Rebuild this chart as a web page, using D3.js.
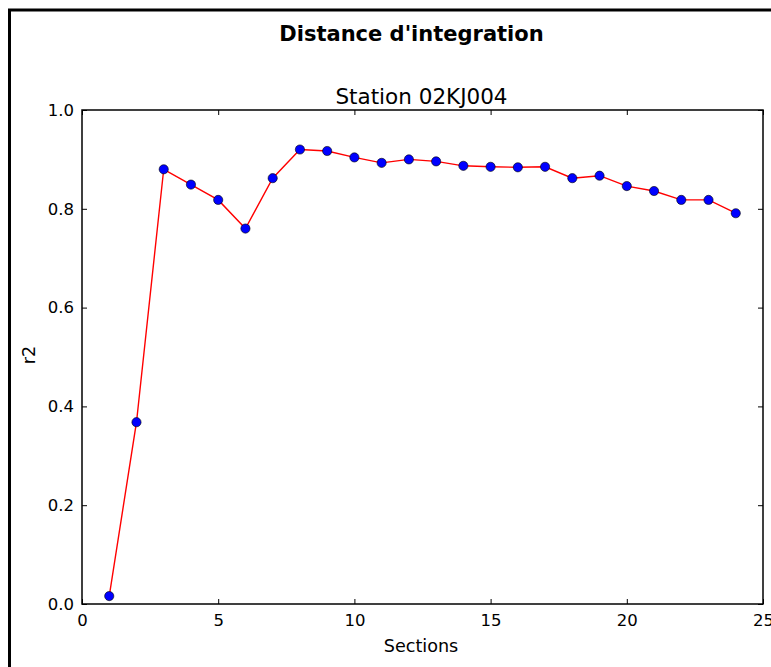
<!DOCTYPE html>
<html><head><meta charset="utf-8">
<script src="https://cdn.jsdelivr.net/npm/d3@7"></script>
<style>body{margin:0;background:#fff}svg{display:block;font-family:"DejaVu Sans",sans-serif}</style>
</head><body><svg id="c" width="771" height="667"></svg>
<script>
const sections = [1,2,3,4,5,6,7,8,9,10,11,12,13,14,15,16,17,18,19,20,21,22,23,24];
const r2 = [0.016,0.368,0.880,0.849,0.818,0.760,0.862,0.920,0.917,0.904,0.893,0.900,0.896,0.887,0.885,0.884,0.885,0.862,0.867,0.846,0.836,0.818,0.818,0.791];
const xTicks = [0,5,10,15,20,25];
const yTicks = [0,0.2,0.4,0.6,0.8,1.0];
const mainTitle = "Distance d'integration";
const subTitle = "Station 02KJ004";
const xLabel = "Sections";
const yLabel = "r2";

const svg = d3.select("#c");
// figure frame
svg.append("rect").attr("x",9.5).attr("y",10).attr("width",800).attr("height",700)
  .attr("fill","none").attr("stroke","#000").attr("stroke-width",3);

const L=82,R=763,T=110,B=604;
const x = d3.scaleLinear().domain([0,25]).range([L,R]);
const y = d3.scaleLinear().domain([0,1]).range([B,T]);

const tl=5;
const fmtY = d3.format(".1f");
const ax = svg.append("g").attr("transform",`translate(0,${B})`)
  .call(d3.axisBottom(x).tickValues(xTicks).tickSizeInner(-tl).tickSizeOuter(0).tickPadding(10));
const axT = svg.append("g").attr("transform",`translate(0,${T})`)
  .call(d3.axisTop(x).tickValues(xTicks).tickSizeInner(-tl).tickSizeOuter(0).tickFormat(""));
const ay = svg.append("g").attr("transform",`translate(${L},0)`)
  .call(d3.axisLeft(y).tickValues(yTicks).tickFormat(fmtY).tickSizeInner(-tl).tickSizeOuter(0).tickPadding(8));
const ayR = svg.append("g").attr("transform",`translate(${R},0)`)
  .call(d3.axisRight(y).tickValues(yTicks).tickSizeInner(-tl).tickSizeOuter(0).tickFormat(""));
[ax,axT,ay,ayR].forEach(g=>{
  g.select(".domain").remove();
  g.selectAll("line").attr("stroke","#000").attr("stroke-width",1);
  g.selectAll("text").attr("font-family","DejaVu Sans").attr("font-size",16.5).attr("fill","#000");
});
svg.append("rect").attr("x",L).attr("y",T).attr("width",R-L).attr("height",B-T)
  .attr("fill","none").attr("stroke","#000").attr("stroke-width",1.5);

const line = d3.line().x((d,i)=>x(sections[i])).y(d=>y(d));
svg.append("path").datum(r2).attr("d",line).attr("fill","none").attr("stroke","#ff0000").attr("stroke-width",1.4);
svg.selectAll("circle.pt").data(r2).enter().append("circle").attr("class","pt")
  .attr("cx",(d,i)=>x(sections[i])).attr("cy",d=>y(d)).attr("r",4.6)
  .attr("fill","#0000ff").attr("stroke","#000").attr("stroke-width",0.6);

svg.append("text").attr("x",411.5).attr("y",41).attr("text-anchor","middle")
  .attr("font-size",21).attr("font-weight","bold").text(mainTitle);
svg.append("text").attr("x",421.5).attr("y",104).attr("text-anchor","middle")
  .attr("font-size",21.5).text(subTitle);
svg.append("text").attr("x",421).attr("y",652).attr("text-anchor","middle")
  .attr("font-size",17.6).text(xLabel);
svg.append("text").attr("transform",`translate(35,${(T+B)/2-2}) rotate(-90)`).attr("text-anchor","middle")
  .attr("font-size",17.6).text(yLabel);
</script></body></html>
